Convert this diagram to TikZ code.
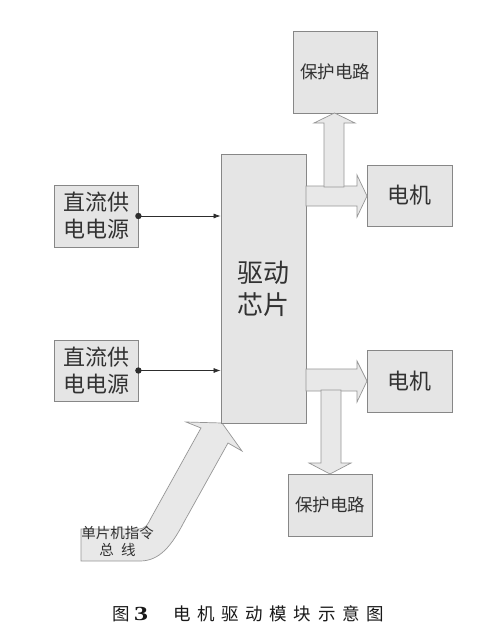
\documentclass[tikz,border=0pt]{standalone}
\usepackage{fontspec}
\usetikzlibrary{arrows.meta}
\newfontfamily\cjk{Noto Sans CJK SC}
\newfontfamily\numfont{Liberation Serif}
\definecolor{boxfill}{RGB}{229,229,229}
\definecolor{boxline}{RGB}{135,135,135}
\definecolor{arrfill}{RGB}{232,232,232}
\definecolor{arrline}{RGB}{150,150,150}
\definecolor{txt}{RGB}{50,50,50}
\definecolor{wire}{RGB}{45,45,45}
\tikzset{
  blockbox/.style={draw=boxline, fill=boxfill, line width=0.8pt, inner sep=0pt,
    align=center, text=txt},
  fatarrow/.style={draw=arrline, fill=arrfill, line width=0.7pt, line join=miter},
  wireline/.style={draw=wire, line width=0.7pt, -{Latex[length=7pt,width=5pt]}},
  f22/.style={font={\cjk\fontsize{22pt}{27pt}\selectfont}},
  f26/.style={font={\cjk\fontsize{26pt}{32pt}\selectfont}},
  f175/.style={font={\cjk\fontsize{17.5pt}{20pt}\selectfont}},
  f145/.style={font={\cjk\fontsize{14.5pt}{17pt}\selectfont}},
}
\begin{document}
\begin{tikzpicture}[x=1pt,y=-1pt]
\useasboundingbox (0,0) rectangle (502,640);
\fill[white] (0,0) rectangle (502,640);

% curved command-bus arrow (drawn first, driver covers its tip)
\draw[fatarrow] (81,529) -- (138,529) .. controls (146,529) and (148,524) .. (151,518)
  -- (201,428) -- (186,422) -- (222,423) -- (242,451) -- (228,443) -- (184,522)
  .. controls (172,545) and (160,561) .. (140,561) -- (81,561) -- cycle;
\node[f145, text=txt, align=center, inner sep=0pt] (bus) at (117.5,541.5) {单片机指令\\总\hspace{0.5em}线};

% blocks
\node[blockbox, f26, minimum width=85pt, minimum height=269pt] (drv) at (263.5,288.5) {驱动\\芯片};
\node[blockbox, f22, minimum width=84pt, minimum height=62pt] (p1) at (96,216) {直流供\\电电源};
\node[blockbox, f22, minimum width=84pt, minimum height=61pt] (p2) at (96,370.5) {直流供\\电电源};
\node[blockbox, f22, minimum width=85pt, minimum height=61pt] (m1) at (409.5,195.5) {电机};
\node[blockbox, f22, minimum width=85pt, minimum height=62pt] (m2) at (409.5,381) {电机};
\node[blockbox, f175, minimum width=84pt, minimum height=82pt] (pr1) at (335,72) {保护电路};
\node[blockbox, f175, minimum width=84pt, minimum height=62pt] (pr2) at (330,505) {保护电路};

% power wires
\fill[wire] (p1.east) circle (3.2pt);
\draw[wireline] (p1.east) -- (p1.east -| drv.west);
\fill[wire] (p2.east) circle (3.2pt);
\draw[wireline] (p2.east) -- (p2.east -| drv.west);

% fat arrows to motors
\draw[fatarrow] (306,186) -- (357,186) -- (357,175) -- (367,196) -- (357,217) -- (357,206) -- (306,206) -- cycle;
\draw[fatarrow] (306,369) -- (357,369) -- (357,361) -- (367,381) -- (357,402) -- (357,391) -- (306,391) -- cycle;
% fat arrows to protection circuits
\draw[fatarrow] (324,187) -- (324,123) -- (314,123) -- (334.5,113) -- (355,123) -- (344,123) -- (344,187) -- cycle;
\draw[fatarrow] (321,390) -- (321,463) -- (309,463) -- (330,474) -- (351,463) -- (341,463) -- (341,390) -- cycle;

% caption
\node[anchor=west, inner sep=0pt, text=black!90] (cap) at (112.5,614)
 {{\cjk\fontsize{17.5pt}{20pt}\selectfont 图}\hspace{4pt}{\numfont\bfseries\fontsize{20pt}{20pt}\selectfont\scalebox{1.4}[1]{3}}\hspace{25pt}{\cjk\fontsize{17.5pt}{20pt}\selectfont\addfontfeature{LetterSpace=38}电机驱动模块示意图}};
\end{tikzpicture}
\end{document}
